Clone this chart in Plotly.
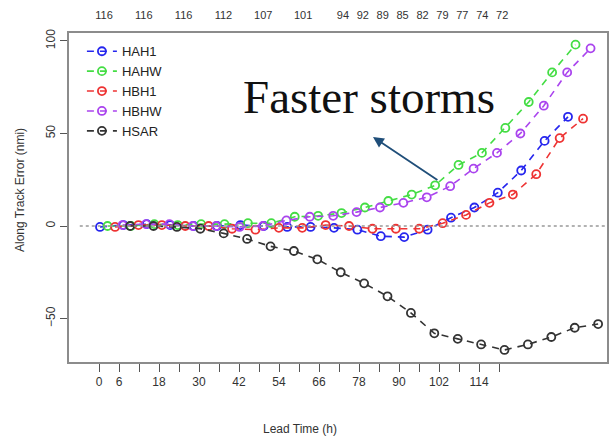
import plotly.graph_objects as go

# ---------------- data ----------------
lead_hours = list(range(0, 121, 6))
series_names = ["HAH1", "HAHW", "HBH1", "HBHW", "HSAR"]
hah1 = [-0.5, 0.5, 1, 0.5, 0, 0, 0.5, 0, -0.5, -0.5, -1, -2, -5.5, -6, -2, 4.5, 10, 18, 30, 46, 59]
hahw = [0, 0, 1, 0.5, 1, 1, 1.5, 1.5, 5, 5.5, 7, 10, 13.5, 17, 22, 33, 39.5, 53, 67, 83, 98]
hbh1 = [-0.5, 0.5, 0.5, 0, 0, -1.5, -2, -1, -1, 0.5, 0, -1.5, -1.5, -1.5, 1.5, 6, 12.5, 17, 28, 47.5, 58]
hbhw = [0.5, 1, 1, 0, 0, -0.5, 0, 3, 5, 5.5, 7.5, 10, 12.5, 15.5, 21.5, 31, 39.5, 50, 65, 83, 96]
hsar = [0, 0, -0.5, -1.5, -4, -7, -11, -13.5, -18, -25, -31, -38, -47, -58, -61, -64, -67, -64, -60, -55, -53]
series_values = [hah1, hahw, hbh1, hbhw, hsar]

tick_hours = list(range(0, 121, 6))
tick_labels = ["0", "6", "", "18", "", "30", "", "42", "", "54", "", "66", "", "78",
               "", "90", "", "102", "", "114", ""]

count_hours = [0, 12, 24, 36, 48, 60, 72, 78, 84, 90, 96, 102, 108, 114, 120]
count_labels = ["116", "116", "116", "112", "107", "101", "94", "92", "89", "85",
                "82", "79", "77", "74", "72"]

# ---------------- style ----------------
colors = ["#2626ee", "#44dd44", "#ee3333", "#aa44ee", "#333333"]
dodge = 1.93
font_sans = "Liberation Sans, Arial, sans-serif"

fig = go.Figure()
for k, (name, vals, col) in enumerate(zip(series_names, series_values, colors)):
    fig.add_trace(go.Scatter(
        x=[h + k * dodge for h in lead_hours], y=vals, name=name,
        mode="lines+markers",
        line=dict(color=col, width=1.6, dash="7px,6px"),
        marker=dict(symbol="circle-open", size=8, color=col, line=dict(width=1.8, color=col)),
        xaxis="x", yaxis="y",
    ))

# invisible traces so the label axes are drawn
fig.add_trace(go.Scatter(x=[tick_hours[0]], y=[None], xaxis="x2", yaxis="y",
                         showlegend=False, hoverinfo="skip", mode="markers"))
fig.add_trace(go.Scatter(x=[count_hours[0]], y=[None], xaxis="x3", yaxis="y",
                         showlegend=False, hoverinfo="skip", mode="markers"))

frame_col = "#8c8c8c"
fig.update_layout(
    width=610, height=438,
    margin=dict(l=69, r=3, t=33, b=76, autoexpand=False),
    paper_bgcolor="white", plot_bgcolor="white",
    font=dict(family=font_sans, size=12, color="#333"),
    xaxis=dict(range=[-7.95, 130.0], visible=False, showgrid=False, zeroline=False,
               automargin=False),
    xaxis2=dict(range=[-9.0, 152.4], overlaying="x", side="bottom", anchor="y",
                tickmode="array", tickvals=tick_hours, ticktext=tick_labels,
                ticks="outside", ticklen=8, tickwidth=1, tickcolor="#555",
                showline=True, linecolor=frame_col, linewidth=1.5, mirror=True,
                showgrid=False, zeroline=False, automargin=False,
                tickfont=dict(size=12, color="#333")),
    xaxis3=dict(range=[-10.55, 151.6], overlaying="x", side="top", anchor="y",
                tickmode="array", tickvals=count_hours, ticktext=count_labels,
                ticks="outside", ticklen=9, tickcolor="rgba(0,0,0,0)",
                showline=False, showgrid=False, zeroline=False, automargin=False,
                tickfont=dict(size=11, color="#333")),
    yaxis=dict(range=[-73.5, 104.3], tickvals=[-50, 0, 50, 100], tickangle=-90,
               ticks="outside", ticklen=7, tickwidth=1, tickcolor="#555",
               showline=True, linecolor=frame_col, linewidth=1.5, mirror=True,
               showgrid=False, zeroline=False, automargin=False,
               tickfont=dict(size=12, color="#333")),
    legend=dict(x=0.024, y=0.99, xanchor="left", yanchor="top",
                bgcolor="rgba(0,0,0,0)", font=dict(size=13, color="#222"),
                itemwidth=30, tracegroupgap=0),
    showlegend=True,
)

# dotted zero reference line
fig.add_shape(type="line", xref="paper", yref="y", x0=0.02, x1=1, y0=0, y1=0,
              line=dict(color="#999", width=1.5, dash="dot"))

# axis titles
fig.add_annotation(text="Lead Time (h)", xref="paper", yref="paper",
                   x=0.429, y=-0.204, showarrow=False, xanchor="center", yanchor="middle",
                   font=dict(size=12, color="#333"))
fig.add_annotation(text="Along Track Error (nmi)", xref="paper", yref="paper",
                   x=-0.091, y=0.523, showarrow=False, textangle=-90,
                   xanchor="center", yanchor="middle", font=dict(size=12, color="#333"))

# "Faster storms" callout
fig.add_annotation(text="Faster storms", xref="x", yref="y", x=69, y=69.7,
                   showarrow=False, xanchor="center", yanchor="middle",
                   font=dict(family="Liberation Serif, serif", size=47, color="#111"))
fig.add_annotation(text="", xref="x", yref="y", x=70.0, y=48.1,
                   axref="x", ayref="y", ax=86.9, ay=24.3,
                   showarrow=True, arrowhead=2, arrowsize=1.2, arrowwidth=1.8,
                   arrowcolor="#1f4e79")

fig.write_html("out.html", config={"displayModeBar": False},
               post_script="document.body.style.margin='0';document.body.style.padding='0';")
